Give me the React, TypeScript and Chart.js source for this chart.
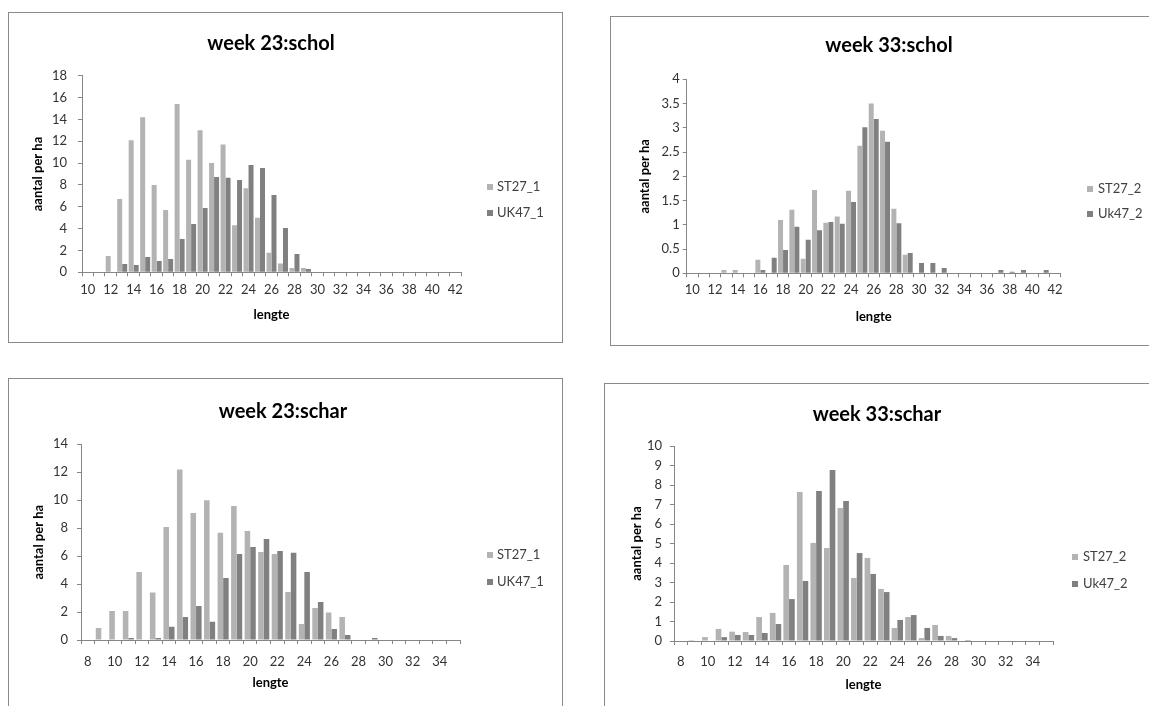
import React, { useEffect, useRef } from 'react';
import { Chart, registerables } from 'chart.js';

Chart.register(...registerables);

const FONT = 'Lato, "Open Sans", "DejaVu Sans", sans-serif';
const LIGHT = '#b3b3b3';
const DARK = '#808080';
const AXIS = '#868686';

// ---- categories (lengte, cm) ----
const scholLengths = ['10', '11', '12', '13', '14', '15', '16', '17', '18', '19', '20', '21', '22', '23', '24', '25', '26', '27', '28', '29', '30', '31', '32', '33', '34', '35', '36', '37', '38', '39', '40', '41', '42'];
const scharLengths = ['8', '9', '10', '11', '12', '13', '14', '15', '16', '17', '18', '19', '20', '21', '22', '23', '24', '25', '26', '27', '28', '29', '30', '31', '32', '33', '34', '35'];

// ---- shown x tick labels ----
const scholTickLabels = ['10', '12', '14', '16', '18', '20', '22', '24', '26', '28', '30', '32', '34', '36', '38', '40', '42'];
const scharTickLabels = ['8', '10', '12', '14', '16', '18', '20', '22', '24', '26', '28', '30', '32', '34'];

// ---- week 23 : schol ----
const w23SchoST27_1 = [0, 0, 1.5, 6.7, 12.1, 14.2, 8.0, 5.7, 15.4, 10.3, 13.0, 10.0, 11.7, 4.3, 7.7, 5.0, 1.8, 0.8, 0.4, 0.4, 0, 0, 0, 0, 0, 0, 0, 0, 0, 0, 0, 0, 0];
const w23SchoUK47_1 = [0, 0, 0, 0.76, 0.67, 1.4, 1.04, 1.22, 3.05, 4.42, 5.88, 8.72, 8.66, 8.45, 9.82, 9.54, 7.07, 4.05, 1.68, 0.3, 0, 0, 0, 0, 0, 0, 0, 0, 0, 0, 0, 0, 0];

// ---- week 33 : schol ----
const w33SchoST27_2 = [0, 0, 0, 0.07, 0.07, 0, 0.28, 0, 1.1, 1.31, 0.3, 1.72, 1.04, 1.17, 1.7, 2.63, 3.5, 2.94, 1.33, 0.38, 0, 0, 0, 0, 0, 0, 0, 0, 0, 0, 0, 0, 0];
const w33SchoUk47_2 = [0, 0, 0, 0, 0, 0, 0.07, 0.32, 0.48, 0.96, 0.69, 0.89, 1.06, 1.02, 1.47, 3.01, 3.18, 2.71, 1.03, 0.42, 0.21, 0.21, 0.11, 0, 0, 0, 0, 0.07, 0.03, 0.07, 0, 0.07, 0];

// ---- week 23 : schar ----
const w23SchaST27_1 = [0, 0.86, 2.07, 2.07, 4.87, 3.4, 8.08, 12.2, 9.08, 10.0, 7.68, 9.58, 7.8, 6.3, 6.15, 3.43, 1.14, 2.29, 1.96, 1.65, 0, 0, 0, 0, 0, 0, 0, 0];
const w23SchaUK47_1 = [0, 0, 0, 0.14, 0, 0.14, 0.95, 1.65, 2.43, 1.31, 4.44, 6.15, 6.65, 7.23, 6.37, 6.25, 4.87, 2.72, 0.79, 0.36, 0, 0.14, 0, 0, 0, 0, 0, 0];

// ---- week 33 : schar ----
const w33SchaST27_2 = [0, 0.05, 0.2, 0.62, 0.48, 0.46, 1.23, 1.44, 3.9, 7.64, 5.03, 4.77, 6.82, 3.23, 4.26, 2.67, 0.67, 1.23, 0.15, 0.82, 0.26, 0, 0, 0, 0, 0, 0, 0];
const w33SchaUk47_2 = [0, 0, 0, 0.2, 0.31, 0.31, 0.41, 0.87, 2.15, 3.08, 7.69, 8.77, 7.18, 4.51, 3.44, 2.51, 1.08, 1.33, 0.67, 0.26, 0.15, 0.05, 0, 0, 0, 0, 0, 0];

type PanelDef = {
  box: { x: number; y: number; w: number; h: number };
  W: number;
  H: number;
  ca: { l: number; t: number; r: number; b: number };
  yTitleX: number;
  xTitleY: number;
  yTickPad: number;
  xTickPad: number;
  title: string;
  titleX: number;
  titleY: number;
  legendBoxX: number;
  legendTextX: number;
  legendRows: number[];
  catPct: number;
  yMax: number;
  yStep: number;
  labels: string[];
  tickLabels: string[];
  series: { label: string; data: number[]; color: string }[];
};

const panels: PanelDef[] = [
  {
    box: { x: 8, y: 12, w: 555, h: 331 },
    W: 552, H: 328,
    ca: { l: 73, t: 62.7, r: 452, b: 259.3 },
    yTitleX: 29, xTitleY: 302, yTickPad: 11, xTickPad: 6,
    title: 'week 23:schol', titleX: 262, titleY: 37,
    legendBoxX: 478, legendTextX: 488, legendRows: [174, 200],
    catPct: 0.87, yMax: 18, yStep: 2,
    labels: scholLengths, tickLabels: scholTickLabels,
    series: [
      { label: 'ST27_1', data: w23SchoST27_1, color: LIGHT },
      { label: 'UK47_1', data: w23SchoUK47_1, color: DARK },
    ],
  },
  {
    box: { x: 610, y: 16, w: 560, h: 330 },
    W: 538, H: 327,
    ca: { l: 75.7, t: 62.3, r: 449.7, b: 256.3 },
    yTitleX: 34, xTitleY: 299.7, yTickPad: 3, xTickPad: 5,
    title: 'week 33:schol', titleX: 278, titleY: 35,
    legendBoxX: 476, legendTextX: 487, legendRows: [172, 197],
    catPct: 0.88, yMax: 4, yStep: 0.5,
    labels: scholLengths, tickLabels: scholTickLabels,
    series: [
      { label: 'ST27_2', data: w33SchoST27_2, color: LIGHT },
      { label: 'Uk47_2', data: w33SchoUk47_2, color: DARK },
    ],
  },
  {
    box: { x: 8, y: 378, w: 555, h: 400 },
    W: 552, H: 327,
    ca: { l: 72, t: 65.3, r: 451, b: 261 },
    yTitleX: 30, xTitleY: 304.3, yTickPad: 9, xTickPad: 10,
    title: 'week 23:schar', titleX: 274, titleY: 39.3,
    legendBoxX: 478, legendTextX: 488, legendRows: [176, 203],
    catPct: 0.82, yMax: 14, yStep: 2,
    labels: scharLengths, tickLabels: scharTickLabels,
    series: [
      { label: 'ST27_1', data: w23SchaST27_1, color: LIGHT },
      { label: 'UK47_1', data: w23SchaUK47_1, color: DARK },
    ],
  },
  {
    box: { x: 604, y: 383, w: 560, h: 400 },
    W: 544, H: 322,
    ca: { l: 69, t: 62, r: 448, b: 257 },
    yTitleX: 32, xTitleY: 301, yTickPad: 8, xTickPad: 9,
    title: 'week 33:schar', titleX: 272, titleY: 36.7,
    legendBoxX: 467, legendTextX: 478, legendRows: [173, 200],
    catPct: 0.84, yMax: 10, yStep: 1,
    labels: scharLengths, tickLabels: scharTickLabels,
    series: [
      { label: 'ST27_2', data: w33SchaST27_2, color: LIGHT },
      { label: 'Uk47_2', data: w33SchaUk47_2, color: DARK },
    ],
  },
];

const panelText = {
  id: 'panelText',
  afterDraw(chart: any, _args: any, opts: any) {
    const ctx = chart.ctx as CanvasRenderingContext2D;
    ctx.save();
    ctx.font = `bold 20px ${FONT}`;
    ctx.fillStyle = '#000000';
    ctx.textAlign = 'center';
    ctx.textBaseline = 'alphabetic';
    ctx.fillText(opts.title, opts.titleX, opts.titleY);
    ctx.font = `13px ${FONT}`;
    ctx.textAlign = 'left';
    ctx.textBaseline = 'middle';
    chart.data.datasets.forEach((ds: any, i: number) => {
      const y = opts.legendRows[i];
      ctx.fillStyle = ds.backgroundColor;
      ctx.fillRect(opts.legendBoxX, y - 3, 6, 6);
      ctx.fillStyle = '#404040';
      ctx.fillText(ds.label, opts.legendTextX, y);
    });
    ctx.restore();
  },
};

function ChartPanel({ p }: { p: PanelDef }) {
  const ref = useRef<HTMLCanvasElement | null>(null);
  useEffect(() => {
    if (!ref.current) return;
    const lh = 13 * 1.2;
    const chart = new Chart(ref.current, {
      type: 'bar',
      data: {
        labels: p.labels,
        datasets: p.series.map((s) => ({
          label: s.label,
          data: s.data,
          backgroundColor: s.color,
          borderWidth: 0,
          categoryPercentage: p.catPct,
          barPercentage: 1,
        })),
      },
      plugins: [panelText as any],
      options: {
        responsive: false,
        maintainAspectRatio: false,
        animation: false,
        devicePixelRatio: 1,
        layout: { padding: { left: 0, top: p.ca.t, right: p.W - p.ca.r, bottom: 0 } },
        plugins: {
          legend: { display: false },
          title: { display: false },
          tooltip: { enabled: false },
          panelText: {
            title: p.title, titleX: p.titleX, titleY: p.titleY,
            legendBoxX: p.legendBoxX, legendTextX: p.legendTextX, legendRows: p.legendRows,
          },
        } as any,
        scales: {
          x: {
            type: 'category',
            offset: true,
            afterFit: (scale: any) => { scale.height = p.H - p.ca.b; },
            grid: { offset: true, drawOnChartArea: false, drawTicks: true, tickLength: 4, color: AXIS },
            border: { display: true, color: AXIS, width: 1 },
            ticks: {
              autoSkip: false,
              maxRotation: 0,
              minRotation: 0,
              padding: p.xTickPad,
              color: '#333333',
              font: { family: FONT, size: 13 },
              callback: (_v: any, i: number) => (p.tickLabels.includes(p.labels[i]) ? p.labels[i] : ''),
            },
            title: {
              display: true,
              text: 'lengte',
              color: '#000000',
              font: { family: FONT, size: 13, weight: 'bold' },
              padding: { top: 0, bottom: p.H - p.xTitleY - lh / 2 },
            },
          },
          y: {
            type: 'linear',
            min: 0,
            max: p.yMax,
            afterFit: (scale: any) => { scale.width = p.ca.l; },
            grid: { drawOnChartArea: false, drawTicks: true, tickLength: 4, color: AXIS },
            border: { display: true, color: AXIS, width: 1 },
            ticks: {
              stepSize: p.yStep,
              padding: p.yTickPad,
              color: '#333333',
              font: { family: FONT, size: 13 },
              callback: (v: any) => String(Math.round(Number(v) * 100) / 100),
            },
            title: {
              display: true,
              text: 'aantal per ha',
              color: '#000000',
              font: { family: FONT, size: 13, weight: 'bold' },
              padding: { top: p.yTitleX - lh / 2, bottom: 0 },
            },
          },
        },
      } as any,
    });
    return () => chart.destroy();
  }, [p]);

  return (
    <div
      style={{
        position: 'absolute',
        left: p.box.x,
        top: p.box.y,
        width: p.box.w,
        height: p.box.h,
        border: '1px solid #8a8a8a',
        boxSizing: 'border-box',
        background: '#ffffff',
      }}
    >
      <canvas
        ref={ref}
        width={p.W}
        height={p.H}
        style={{ position: 'absolute', left: 0, top: 0, width: p.W, height: p.H }}
      />
    </div>
  );
}

export default function App() {
  return (
    <div
      style={{
        position: 'absolute',
        left: 0,
        top: 0,
        width: 1149,
        height: 706,
        overflow: 'hidden',
        background: '#ffffff',
      }}
    >
      {panels.map((p, i) => (
        <ChartPanel key={i} p={p} />
      ))}
    </div>
  );
}
